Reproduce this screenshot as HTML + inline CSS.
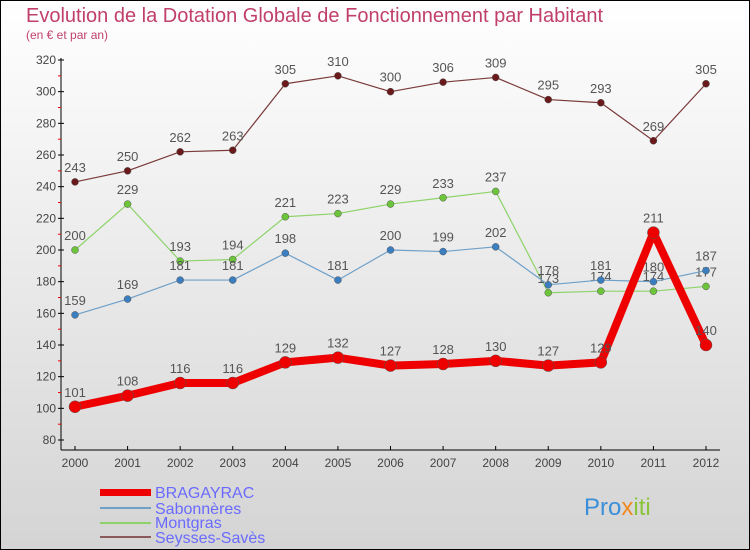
<!DOCTYPE html>
<html><head><meta charset="utf-8"><style>
body{margin:0;background:#fff}
svg{display:block;font-family:"Liberation Sans","DejaVu Sans",sans-serif}
</style></head><body>
<svg id="chart" width="750" height="550" viewBox="0 0 750 550">
<defs><linearGradient id="bg" x1="0" y1="0" x2="0" y2="1"><stop offset="0" stop-color="#ffffff"/><stop offset="1" stop-color="#d4d4d4"/></linearGradient></defs>
<rect x="0.5" y="0.5" width="749" height="549" fill="url(#bg)" stroke="#000"/>
<text x="26" y="22" font-size="20" fill="#c0406a">Evolution de la Dotation Globale de Fonctionnement par Habitant</text>
<text x="26" y="39" font-size="12" fill="#c0406a">(en € et par an)</text>
<g id="axes"></g><g id="series"></g>
<g>
<rect x="100" y="489" width="51" height="7" fill="#ee0000"/>
<text x="155" y="498" font-size="16" fill="#6a6aff">BRAGAYRAC</text>
<rect x="100" y="507" width="51" height="2" fill="#6fa0c8"/>
<text x="155" y="514" font-size="16" fill="#6a6aff">Sabonnères</text>
<rect x="100" y="522" width="51" height="2" fill="#8ed36a"/>
<text x="155" y="528" font-size="16" fill="#6a6aff">Montgras</text>
<rect x="100" y="536" width="51" height="2" fill="#8a5a5a"/>
<text x="155" y="543" font-size="16" fill="#6a6aff">Seysses-Savès</text>
</g>
<text x="584" y="515" font-size="24" fill="#3a8fd8">Pro<tspan fill="#f08a20">x</tspan><tspan fill="#8ac43a">iti</tspan></text>
</svg>
<script>
const years=[2000,2001,2002,2003,2004,2005,2006,2007,2008,2009,2010,2011,2012];
const yTicks=[80,100,120,140,160,180,200,220,240,260,280,300,320];
const bragayrac=[101,108,116,116,129,132,127,128,130,127,129,211,140];
const sabonneres=[159,169,181,181,198,181,200,199,202,178,181,180,187];
const montgras=[200,229,193,194,221,223,229,233,237,173,174,174,177];
const seysses=[243,250,262,263,305,310,300,306,309,295,293,269,305];
const NS="http://www.w3.org/2000/svg";
const xS=i=>75+i*(706-75)/12;
const yS=v=>440-(v-80)*(380/240);
function mk(t,a,p){const e=document.createElementNS(NS,t);for(const k in a)e.setAttribute(k,a[k]);p.appendChild(e);return e;}
const ax=document.getElementById('axes');
let e=mk('line',{x1:61,y1:58,x2:61,y2:450,stroke:'#000'},ax);


e=mk('line',{x1:61,y1:450,x2:720,y2:450,stroke:'#000'},ax);


yTicks.forEach((v,i)=>{const y=yS(v);
mk('line',{x1:58,y1:y,x2:64,y2:y,stroke:'#000'},ax);
if(i<yTicks.length-1)mk('line',{x1:58,y1:y-15.8,x2:61,y2:y-15.8,stroke:'#e00'},ax);
const t=mk('text',{x:56,y:y+4,'font-size':12,fill:'#444','text-anchor':'end'},ax);t.textContent=v;

});
years.forEach((yr,i)=>{const x=xS(i);
mk('line',{x1:x,y1:446,x2:x,y2:450,stroke:'#000'},ax);
const t=mk('text',{x:x,y:467,'font-size':12,fill:'#444','text-anchor':'middle'},ax);t.textContent=yr;

});
const sg=document.getElementById('series');
function draw(data,name,col,dot,w,r){
const g=mk('g',{},sg);


const p=mk('polyline',{points:data.map((v,i)=>xS(i)+','+yS(v)).join(' '),fill:'none',stroke:col,'stroke-width':w,'stroke-linejoin':'round'},g);


data.forEach((v,i)=>{const c=mk('circle',{cx:xS(i),cy:yS(v),r:r,fill:dot,stroke:'#555','stroke-width':0.5},g);


const t=mk('text',{x:xS(i),y:yS(v)-10,'font-size':13,fill:'#555','text-anchor':'middle'},g);t.textContent=v;

});}
draw(seysses,'seysses-saves','#7a3a3a','#6a1a1a',1.2,3.5);
draw(montgras,'montgras','#8ed36a','#6cc43a',1.2,3.5);
draw(sabonneres,'sabonneres','#6fa0c8','#3a7ec0',1.2,3.5);
draw(bragayrac,'bragayrac','#ee0000','#ee0000',8,6);
</script>
</body></html>
